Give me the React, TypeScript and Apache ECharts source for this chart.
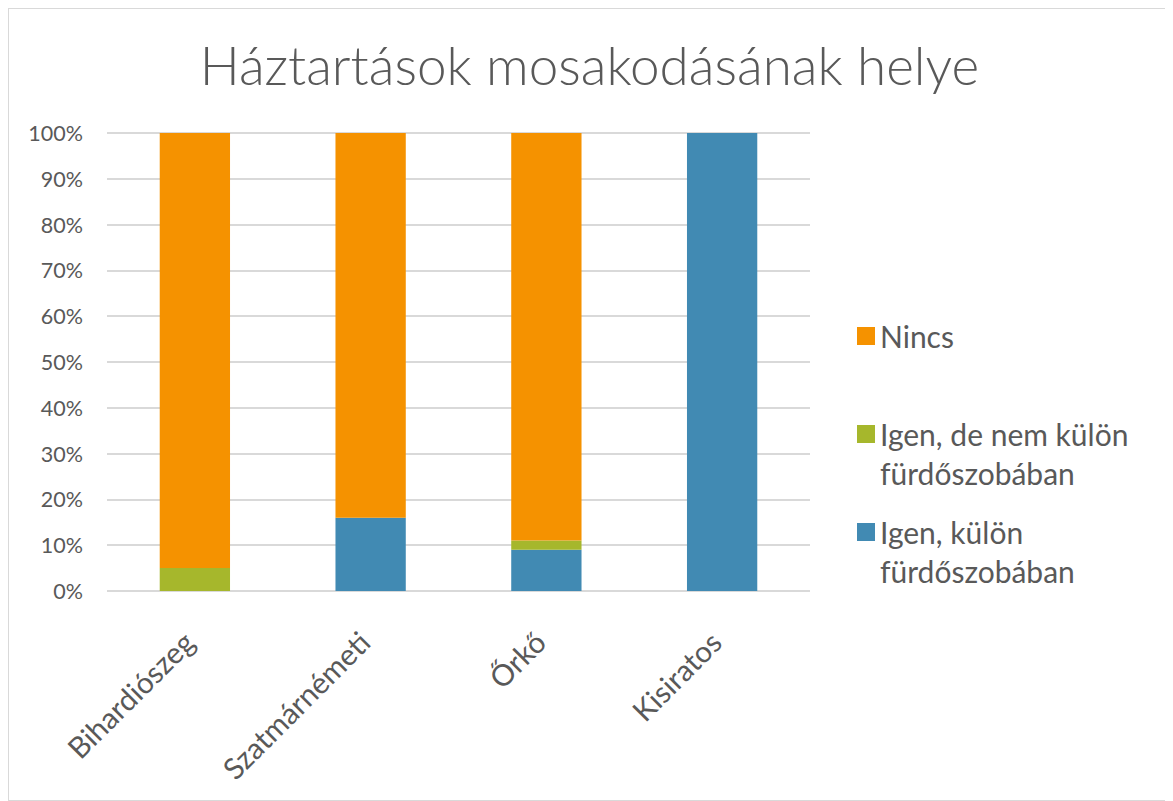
import React, { useEffect, useRef } from "react";
import * as echarts from "echarts";

const categories = ["Bihardiószeg", "Szatmárnémeti", "Őrkő", "Kisiratos"];
const igenKulon = [0, 16, 9, 100];
const igenNemKulon = [5, 0, 2, 0];
const nincs = [95, 84, 89, 0];
const yTicks = [0, 10, 20, 30, 40, 50, 60, 70, 80, 90, 100];

const seriesNames = {
  blue: "Igen, külön fürdőszobában",
  green: "Igen, de nem külön fürdőszobában",
  orange: "Nincs",
};
const legendLabels: Record<string, string> = {
  "Igen, külön fürdőszobában": "\nIgen, külön\nfürdőszobában",
  "Igen, de nem külön fürdőszobában": "\nIgen, de nem külön\nfürdőszobában",
  Nincs: "Nincs",
};

const FONT = "Lato, 'Open Sans', sans-serif";
const TXT = "#595959";

export default function App() {
  const ref = useRef<HTMLDivElement>(null);
  useEffect(() => {
    if (!ref.current) return;
    const chart = echarts.init(ref.current, undefined, { renderer: "svg" });
    const LH = 39;
    const legendText = {
      color: TXT,
      fontSize: 30,
      fontFamily: FONT,
      lineHeight: LH,
    };
    const mkLegend = (name: string, top: number) => ({
      data: [name],
      left: 848,
      top,
      padding: 0,
      orient: "vertical",
      itemWidth: 18,
      itemHeight: 18,
      icon: "rect",
      selectedMode: false,
      formatter: (n: string) => legendLabels[n],
      textStyle: legendText,
    });
    chart.setOption({
      animation: false,
      backgroundColor: "#fff",
      title: {
        text: "Háztartások mosakodásának helye",
        left: "center",
        top: 24,
        textStyle: {
          fontFamily: FONT,
          fontWeight: 300,
          fontSize: 53,
          color: TXT,
        },
      },
      legend: [
        mkLegend(seriesNames.orange, 336 - 9 - LH / 2),
        mkLegend(seriesNames.green, 434 - 9 - (LH * 3) / 2),
        mkLegend(seriesNames.blue, 532 - 9 - (LH * 3) / 2),
      ],
      grid: { left: 98, right: 360, top: 124, bottom: 209 },
      xAxis: {
        type: "category",
        data: categories,
        axisLine: { show: false },
        axisTick: { show: false },
        axisLabel: {
          rotate: 45,
          margin: 52,
          fontSize: 29.5,
          lineHeight: 18,
          align: "right",
          verticalAlign: "bottom",
          color: TXT,
          fontFamily: FONT,
        },
      },
      yAxis: {
        type: "value",
        min: 0,
        max: 100,
        interval: 10,
        axisLine: { show: false },
        axisTick: { show: false },
        axisLabel: {
          margin: 24,
          fontSize: 21.5,
          color: TXT,
          fontFamily: FONT,
          formatter: (v: number) => (yTicks.includes(v) ? v + "%" : ""),
        },
        splitLine: { lineStyle: { color: "#d9d9d9", width: 2 } },
      },
      series: [
        {
          name: seriesNames.blue,
          type: "bar",
          stack: "t",
          data: igenKulon,
          barCategoryGap: "60%",
          itemStyle: { color: "#418AB3" },
        },
        {
          name: seriesNames.green,
          type: "bar",
          stack: "t",
          data: igenNemKulon,
          barCategoryGap: "60%",
          itemStyle: { color: "#A6B72C" },
        },
        {
          name: seriesNames.orange,
          type: "bar",
          stack: "t",
          data: nincs,
          barCategoryGap: "60%",
          itemStyle: { color: "#F59200" },
        },
      ],
    });
    return () => chart.dispose();
  }, []);
  return (
    <div
      style={{
        width: 1163,
        height: 793,
        border: "1px solid #d9d9d9",
        boxSizing: "border-box",
      }}
    >
      <div ref={ref} style={{ width: 1161, height: 791 }} />
    </div>
  );
}
